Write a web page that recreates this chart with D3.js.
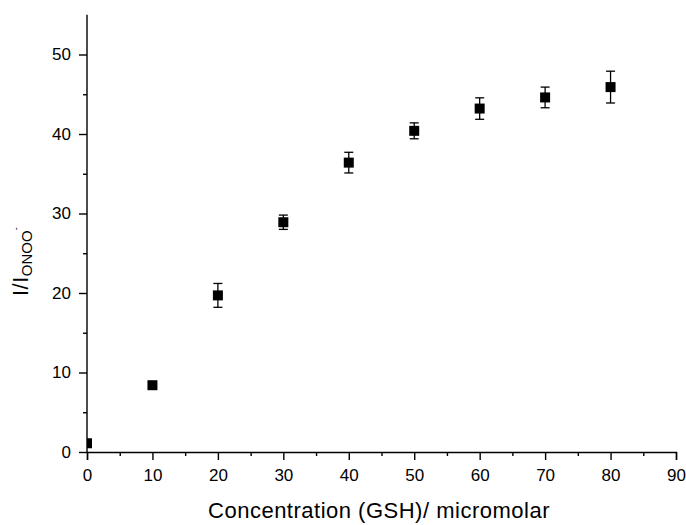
<!DOCTYPE html>
<html><head><meta charset="utf-8">
<script src="https://cdn.jsdelivr.net/npm/d3@7"></script>
<style>body{margin:0;background:#fff;} svg{display:block;font-family:Arial,"Liberation Sans",sans-serif;}</style>
</head><body>
<script>
const concentrations = [0, 10, 20, 30, 40, 50, 60, 70, 80];
const ratios = [1.1, 8.4, 19.7, 28.9, 36.4, 40.4, 43.2, 44.6, 45.9];
const errors = [0.1, 0.3, 1.5, 0.9, 1.3, 1.0, 1.35, 1.3, 2.0];
const xTicks = [0, 10, 20, 30, 40, 50, 60, 70, 80, 90];
const yTicks = [0, 10, 20, 30, 40, 50];

const W = 686, H = 525;
const svg = d3.select("body").append("svg").attr("width", W).attr("height", H);

const x = d3.scaleLinear().domain([0, 90]).range([87, 676]);
const y = d3.scaleLinear().domain([0, 55]).range([452, 452 - 55 * 7.95]);

const xMinor = d3.range(5, 90, 10);
const yMinor = d3.range(5, 55, 10);

svg.append("g").attr("transform", `translate(0,${y(0)})`)
  .call(d3.axisBottom(x).tickValues(xTicks).tickSize(8).tickPadding(9).tickFormat(d3.format("d")));
svg.append("g").attr("transform", `translate(0,${y(0)})`)
  .call(d3.axisBottom(x).tickValues(xMinor).tickSize(4).tickFormat(""))
  .select(".domain").remove();
const gy = svg.append("g").attr("transform", `translate(${x(0)},0)`)
  .call(d3.axisLeft(y).tickValues(yTicks).tickSize(8).tickPadding(8).tickFormat(d3.format("d")));
svg.append("g").attr("transform", `translate(${x(0)},0)`)
  .call(d3.axisLeft(y).tickValues(yMinor).tickSize(4).tickFormat(""))
  .select(".domain").remove();

svg.selectAll(".domain").attr("stroke", "#000").attr("stroke-width", 1.4);
svg.selectAll(".tick line").attr("stroke", "#000").attr("stroke-width", 1.4);
svg.selectAll(".tick text").attr("font-size", 17).attr("fill", "#000")
  .attr("font-family", "Arial, 'Liberation Sans', sans-serif");
gy.selectAll(".domain").attr("d", `M-0,${y(55)}V${y(0)}`);

svg.append("clipPath").attr("id", "clip").append("rect")
  .attr("x", x(0)).attr("y", 0).attr("width", 676 - x(0) + 10).attr("height", y(0));

const data = concentrations.map((c, i) => ({c, v: ratios[i], e: errors[i]}));
const plot = svg.append("g").attr("clip-path", "url(#clip)");

const eb = plot.selectAll("g.eb").data(data).join("g").attr("class", "eb");
eb.append("line").attr("x1", d => x(d.c)).attr("x2", d => x(d.c))
  .attr("y1", d => y(d.v + d.e)).attr("y2", d => y(d.v - d.e))
  .attr("stroke", "#000").attr("stroke-width", 1.3);
eb.append("line").attr("x1", d => x(d.c) - 4.5).attr("x2", d => x(d.c) + 4.5)
  .attr("y1", d => y(d.v + d.e)).attr("y2", d => y(d.v + d.e))
  .attr("stroke", "#000").attr("stroke-width", 1.3);
eb.append("line").attr("x1", d => x(d.c) - 4.5).attr("x2", d => x(d.c) + 4.5)
  .attr("y1", d => y(d.v - d.e)).attr("y2", d => y(d.v - d.e))
  .attr("stroke", "#000").attr("stroke-width", 1.3);

plot.selectAll("rect.pt").data(data).join("rect").attr("class", "pt")
  .attr("x", d => x(d.c) - 5).attr("y", d => y(d.v) - 5)
  .attr("width", 10).attr("height", 10).attr("fill", "#000");

svg.append("text").attr("x", 379).attr("y", 518).attr("text-anchor", "middle")
  .attr("font-size", 22).attr("letter-spacing", 0.5).attr("fill", "#000")
  .text("Concentration (GSH)/ micromolar");

const yl = svg.append("text").attr("transform", `translate(28,296) rotate(-90)`)
  .attr("text-anchor", "start").attr("font-size", 22).attr("fill", "#000");
yl.append("tspan").attr("letter-spacing", 0.5).text("I/I");
yl.append("tspan").attr("font-size", 15).attr("dy", 4).text("ONOO");
yl.append("tspan").attr("font-size", 9).attr("dy", -13).text("-");
</script>
</body></html>
